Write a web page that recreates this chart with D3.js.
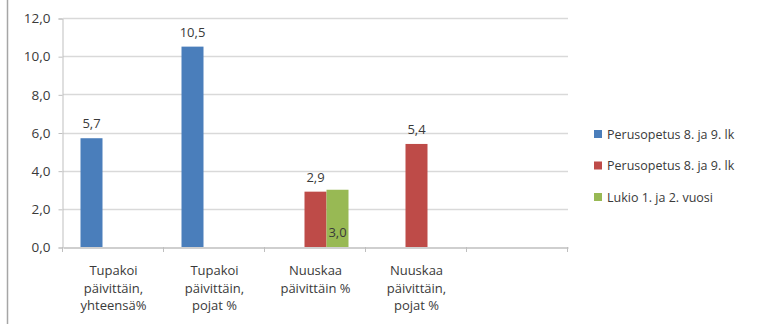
<!DOCTYPE html>
<html>
<head>
<meta charset="utf-8">
<script src="https://cdn.jsdelivr.net/npm/d3@7"></script>
<style>
  html, body { margin: 0; padding: 0; background: #fff; }
  svg { display: block; }
  text { font-family: "Open Sans", "Liberation Sans", sans-serif; fill: #3a3a3a; }
</style>
</head>
<body>
<svg id="chart" width="762" height="324"></svg>
<script>
// Category labels (multi-line), the fifth slot is left empty
const categories = [
  ["Tupakoi", "päivittäin,", "yhteensä%"],
  ["Tupakoi", "päivittäin,", "pojat %"],
  ["Nuuskaa", "päivittäin %"],
  ["Nuuskaa", "päivittäin,", "pojat %"],
  []
];
const seriesNames = ["Perusopetus 8. ja 9. lk", "Perusopetus 8. ja 9. lk", "Lukio 1. ja 2. vuosi"];
const seriesColors = ["#4a7ebb", "#be4b48", "#98b954"];
// values per series, null = no bar
const series1 = [5.7, 10.5, null, null, null];
const series2 = [null, null, 2.9, 5.4, null];
const series3 = [null, null, 3.0, null, null];
const yTicks = [0, 2, 4, 6, 8, 10, 12];

const allSeries = [series1, series2, series3];
const fmt = v => d3.format(".1f")(v).replace(".", ",");

const svg = d3.select("#chart");
const plotL = 63, plotR = 568, plotT = 18, plotB = 247;

const x = d3.scaleBand().domain(d3.range(categories.length)).range([plotL, plotR]);
const bw = 22;
const groupW = bw * seriesNames.length;
const y = d3.scaleLinear().domain([0, 12]).range([plotB, plotT]);

// outer frame line on the left
svg.append("line").attr("x1", 7.5).attr("x2", 7.5).attr("y1", 0).attr("y2", 324)
  .attr("stroke", "#a6a6a6").attr("stroke-width", 1.5);

// gridlines
svg.append("g").selectAll("line").data(yTicks.filter(d => d > 0)).join("line")
  .attr("x1", plotL).attr("x2", plotR)
  .attr("y1", d => Math.round(y(d)) + 0.5).attr("y2", d => Math.round(y(d)) + 0.5)
  .attr("stroke", "#d9d9d9").attr("stroke-width", 1.5);

// y axis
const yAxis = d3.axisLeft(y).tickValues(yTicks).tickFormat(fmt).tickSize(4).tickPadding(8);
const gy = svg.append("g").attr("transform", `translate(${plotL - 0.5},0.5)`).call(yAxis);
gy.select(".domain").attr("stroke", "#bfbfbf");
gy.selectAll(".tick line").attr("stroke", "#bfbfbf");
gy.selectAll(".tick text").attr("font-size", 13.5).attr("font-family", "\"Open Sans\", sans-serif").attr("fill", "#3a3a3a");

// bars
allSeries.forEach((vals, si) => {
  svg.append("g").selectAll("rect").data(vals.map((v, i) => ({v, i})).filter(d => d.v !== null)).join("rect")
    .attr("x", d => x(d.i) + (x.bandwidth() - groupW) / 2 + si * bw)
    .attr("width", bw)
    .attr("y", d => y(d.v))
    .attr("height", d => y(0) - y(d.v))
    .attr("fill", seriesColors[si]);
});

// value labels; the third series shows its label inside the bar base
allSeries.forEach((vals, si) => {
  svg.append("g").selectAll("text").data(vals.map((v, i) => ({v, i})).filter(d => d.v !== null)).join("text")
    .attr("x", d => x(d.i) + (x.bandwidth() - groupW) / 2 + si * bw + bw / 2)
    .attr("y", d => si === 2 ? y(0) - 10 : y(d.v) - 10)
    .attr("text-anchor", "middle")
    .attr("font-size", 13)
    .text(d => fmt(d.v));
});

// x axis
const xAxis = d3.axisBottom(x).tickSize(0).tickFormat("");
const gx = svg.append("g").attr("transform", `translate(0,${plotB + 0.5})`).call(xAxis);
gx.select(".domain").attr("stroke", "#bfbfbf").attr("stroke-width", 1.5);
svg.append("g").selectAll("line").data(d3.range(categories.length + 1)).join("line")
  .attr("x1", i => Math.round(plotL + i * x.step()) - 0.5).attr("x2", i => Math.round(plotL + i * x.step()) - 0.5)
  .attr("y1", plotB).attr("y2", plotB + 5)
  .attr("stroke", "#bfbfbf");

// category labels
const cl = svg.append("g").selectAll("text").data(categories.map((c, i) => ({c, i}))).join("text")
  .attr("x", d => x(d.i) + x.bandwidth() / 2)
  .attr("y", 275)
  .attr("text-anchor", "middle")
  .attr("font-size", 13);
cl.selectAll("tspan").data(d => d.c.map(t => ({t, x: x(d.i) + x.bandwidth() / 2}))).join("tspan")
  .attr("x", d => d.x).attr("dy", (d, j) => j === 0 ? 0 : 17.5).text(d => d.t);

// legend
const lg = svg.append("g").selectAll("g").data(seriesNames).join("g")
  .attr("transform", (d, i) => `translate(594,${134 + i * 31.5})`);
lg.append("rect").attr("x", 0).attr("y", -4).attr("width", 8).attr("height", 8)
  .attr("fill", (d, i) => seriesColors[i]);
lg.append("text").attr("x", 13).attr("y", 4.5).attr("font-size", 12.5).text(d => d);
</script>
</body>
</html>
